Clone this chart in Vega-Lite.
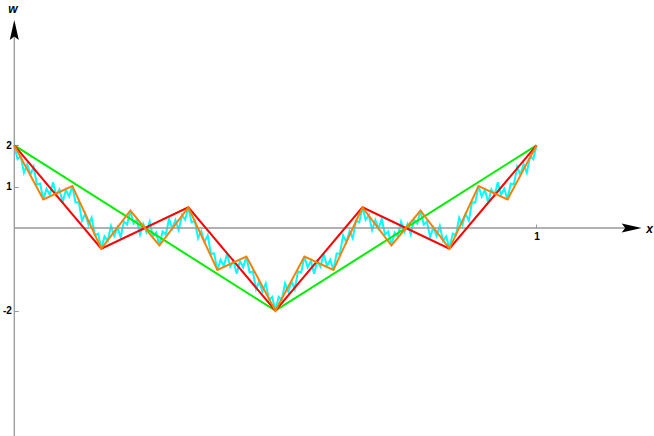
{
  "$schema": "https://vega.github.io/schema/vega-lite/v6.json",
  "width": 654,
  "height": 436,
  "padding": 0,
  "autosize": {"type": "none"},
  "background": "white",
  "config": {"view": {"stroke": null}},
  "datasets": {
    "cyan": [
      {"x":0,"w":2},{"x":0.0062,"w":1.6682},{"x":0.0123,"w":1.7375},{"x":0.0185,"w":1.338},{"x":0.0247,"w":1.5407},{"x":0.0309,"w":1.2931},{"x":0.037,"w":1.481},{"x":0.0432,"w":1.0525},{"x":0.0494,"w":1.0785},{"x":0.0556,"w":0.6897},
      {"x":0.0617,"w":0.9513},{"x":0.0679,"w":0.7998},{"x":0.0741,"w":1.1054},{"x":0.0802,"w":0.7988},{"x":0.0864,"w":0.933},{"x":0.0926,"w":0.6237},{"x":0.0988,"w":0.9241},{"x":0.1049,"w":0.7648},{"x":0.1111,"w":1.016},
      {"x":0.1173,"w":0.6143},{"x":0.1235,"w":0.6248},{"x":0.1296,"w":0.1782},{"x":0.1358,"w":0.3457},{"x":0.142,"w":0.0751},{"x":0.1481,"w":0.2524},{"x":0.1543,"w":-0.1749},{"x":0.1605,"w":-0.1358},{"x":0.1667,"w":-0.5},
      {"x":0.1728,"w":-0.203},{"x":0.179,"w":-0.3091},{"x":0.1852,"w":0.0513},{"x":0.1914,"w":-0.1925},{"x":0.1975,"w":0.0119},{"x":0.2037,"w":-0.2212},{"x":0.2099,"w":0.1603},{"x":0.216,"w":0.0855},{"x":0.2222,"w":0.4236},
      {"x":0.2284,"w":0.1097},{"x":0.2346,"w":0.2074},{"x":0.2407,"w":-0.1537},{"x":0.2469,"w":0.0962},{"x":0.2531,"w":-0.0962},{"x":0.2593,"w":0.1537},{"x":0.2654,"w":-0.2074},{"x":0.2716,"w":-0.1097},{"x":0.2778,"w":-0.4236},
      {"x":0.284,"w":-0.0855},{"x":0.2901,"w":-0.1603},{"x":0.2963,"w":0.2212},{"x":0.3025,"w":-0.0119},{"x":0.3086,"w":0.1925},{"x":0.3148,"w":-0.0513},{"x":0.321,"w":0.3091},{"x":0.3272,"w":0.203},{"x":0.3333,"w":0.5},
      {"x":0.3395,"w":0.1358},{"x":0.3457,"w":0.1749},{"x":0.3519,"w":-0.2524},{"x":0.358,"w":-0.0751},{"x":0.3642,"w":-0.3457},{"x":0.3704,"w":-0.1782},{"x":0.3765,"w":-0.6248},{"x":0.3827,"w":-0.6143},{"x":0.3889,"w":-1.016},
      {"x":0.3951,"w":-0.7648},{"x":0.4012,"w":-0.9241},{"x":0.4074,"w":-0.6237},{"x":0.4136,"w":-0.933},{"x":0.4198,"w":-0.7988},{"x":0.4259,"w":-1.1054},{"x":0.4321,"w":-0.7998},{"x":0.4383,"w":-0.9513},{"x":0.4444,"w":-0.6897},
      {"x":0.4506,"w":-1.0785},{"x":0.4568,"w":-1.0525},{"x":0.463,"w":-1.481},{"x":0.4691,"w":-1.2931},{"x":0.4753,"w":-1.5407},{"x":0.4815,"w":-1.338},{"x":0.4877,"w":-1.7375},{"x":0.4938,"w":-1.6682},{"x":0.5,"w":-2},
      {"x":0.5062,"w":-1.6682},{"x":0.5123,"w":-1.7375},{"x":0.5185,"w":-1.338},{"x":0.5247,"w":-1.5407},{"x":0.5309,"w":-1.2931},{"x":0.537,"w":-1.481},{"x":0.5432,"w":-1.0525},{"x":0.5494,"w":-1.0785},{"x":0.5556,"w":-0.6897},
      {"x":0.5617,"w":-0.9513},{"x":0.5679,"w":-0.7998},{"x":0.5741,"w":-1.1054},{"x":0.5802,"w":-0.7988},{"x":0.5864,"w":-0.933},{"x":0.5926,"w":-0.6237},{"x":0.5988,"w":-0.9241},{"x":0.6049,"w":-0.7648},{"x":0.6111,"w":-1.016},
      {"x":0.6173,"w":-0.6143},{"x":0.6235,"w":-0.6248},{"x":0.6296,"w":-0.1782},{"x":0.6358,"w":-0.3457},{"x":0.642,"w":-0.0751},{"x":0.6481,"w":-0.2524},{"x":0.6543,"w":0.1749},{"x":0.6605,"w":0.1358},{"x":0.6667,"w":0.5},
      {"x":0.6728,"w":0.203},{"x":0.679,"w":0.3091},{"x":0.6852,"w":-0.0513},{"x":0.6914,"w":0.1925},{"x":0.6975,"w":-0.0119},{"x":0.7037,"w":0.2212},{"x":0.7099,"w":-0.1603},{"x":0.716,"w":-0.0855},{"x":0.7222,"w":-0.4236},
      {"x":0.7284,"w":-0.1097},{"x":0.7346,"w":-0.2074},{"x":0.7407,"w":0.1537},{"x":0.7469,"w":-0.0962},{"x":0.7531,"w":0.0962},{"x":0.7593,"w":-0.1537},{"x":0.7654,"w":0.2074},{"x":0.7716,"w":0.1097},{"x":0.7778,"w":0.4236},
      {"x":0.784,"w":0.0855},{"x":0.7901,"w":0.1603},{"x":0.7963,"w":-0.2212},{"x":0.8025,"w":0.0119},{"x":0.8086,"w":-0.1925},{"x":0.8148,"w":0.0513},{"x":0.821,"w":-0.3091},{"x":0.8272,"w":-0.203},{"x":0.8333,"w":-0.5},
      {"x":0.8395,"w":-0.1358},{"x":0.8457,"w":-0.1749},{"x":0.8519,"w":0.2524},{"x":0.858,"w":0.0751},{"x":0.8642,"w":0.3457},{"x":0.8704,"w":0.1782},{"x":0.8765,"w":0.6248},{"x":0.8827,"w":0.6143},{"x":0.8889,"w":1.016},
      {"x":0.8951,"w":0.7648},{"x":0.9012,"w":0.9241},{"x":0.9074,"w":0.6237},{"x":0.9136,"w":0.933},{"x":0.9198,"w":0.7988},{"x":0.9259,"w":1.1054},{"x":0.9321,"w":0.7998},{"x":0.9383,"w":0.9513},{"x":0.9444,"w":0.6897},
      {"x":0.9506,"w":1.0785},{"x":0.9568,"w":1.0525},{"x":0.963,"w":1.481},{"x":0.9691,"w":1.2931},{"x":0.9753,"w":1.5407},{"x":0.9815,"w":1.338},{"x":0.9877,"w":1.7375},{"x":0.9938,"w":1.6682},{"x":1,"w":2}
    ],
    "orange": [
      {"x":0,"w":2},{"x":0.0556,"w":0.6897},{"x":0.1111,"w":1.016},{"x":0.1667,"w":-0.5},{"x":0.2222,"w":0.4236},{"x":0.2778,"w":-0.4236},{"x":0.3333,"w":0.5},{"x":0.3889,"w":-1.016},{"x":0.4444,"w":-0.6897},{"x":0.5,"w":-2},
      {"x":0.5556,"w":-0.6897},{"x":0.6111,"w":-1.016},{"x":0.6667,"w":0.5},{"x":0.7222,"w":-0.4236},{"x":0.7778,"w":0.4236},{"x":0.8333,"w":-0.5},{"x":0.8889,"w":1.016},{"x":0.9444,"w":0.6897},{"x":1,"w":2}
    ],
    "red": [
      {"x":0,"w":2},{"x":0.1667,"w":-0.5},{"x":0.3333,"w":0.5},{"x":0.5,"w":-2},{"x":0.6667,"w":0.5},{"x":0.8333,"w":-0.5},{"x":1,"w":2}
    ],
    "green": [
      {"x":0,"w":2},{"x":0.5,"w":-2},{"x":1,"w":2}
    ]
  },
  "layer": [
    {
      "data": {"name": "cyan"},
      "mark": {"type": "line", "color": "#00FFFF", "strokeWidth": 2},
      "encoding": {
        "x": {"field": "x", "type": "quantitative",
          "scale": {"domain": [-0.02738, 1.22501], "nice": false, "zero": false},
          "axis": {"values": [1], "offset": -208, "domain": false, "grid": false, "ticks": true, "tickSize": -4, "tickColor": "#999999", "tickWidth": 1,
            "labelExpr": "datum.value < 0 ? '-' + format(-datum.value, 'd') : format(datum.value, 'd')",
            "labelPadding": 7, "labelFont": "Liberation Sans", "labelFontWeight": "bold", "labelFontSize": 10, "labelColor": "black", "labelFlush": false, "labelOverlap": false,
            "title": "x", "titleAngle": 0, "titleX": 649, "titleY": 0, "titleAlign": "center", "titleBaseline": "middle",
            "titleFont": "Liberation Sans", "titleFontStyle": "italic", "titleFontWeight": "bold", "titleFontSize": 12, "titleColor": "black"}},
        "y": {"field": "w", "type": "quantitative",
          "scale": {"domain": [-5.0363, 5.5206], "nice": false, "zero": false},
          "axis": {"values": [2, 1, -2], "offset": -14.3, "domain": false, "grid": false, "ticks": true, "tickSize": -4, "tickColor": "#999999", "tickWidth": 1,
            "labelExpr": "datum.value < 0 ? '-' + format(-datum.value, 'd') : format(datum.value, 'd')",
            "labelPadding": 7, "labelFont": "Liberation Sans", "labelFontWeight": "bold", "labelFontSize": 10, "labelColor": "black", "labelFlush": false, "labelOverlap": false,
            "title": "w", "titleAngle": 0, "titleX": -2, "titleY": 8, "titleAlign": "center", "titleBaseline": "middle",
            "titleFont": "Liberation Sans", "titleFontStyle": "italic", "titleFontWeight": "bold", "titleFontSize": 12, "titleColor": "black"}}
      }
    },
    {
      "data": {"values": [{}]},
      "mark": {"type": "rule", "color": "#999999", "strokeWidth": 1.3},
      "encoding": {
        "x": {"datum": 0},
        "x2": {"datum": 1.1823},
        "y": {"datum": 0}
      }
    },
    {
      "data": {"values": [{}]},
      "mark": {"type": "rule", "color": "#999999", "strokeWidth": 1.3},
      "encoding": {
        "x": {"datum": 0},
        "y": {"datum": -5.0363},
        "y2": {"datum": 4.794}
      }
    },
    {
      "data": {"name": "green"},
      "mark": {"type": "line", "color": "#00EE00", "strokeWidth": 2},
      "encoding": {
        "x": {"field": "x", "type": "quantitative"},
        "y": {"field": "w", "type": "quantitative"}
      }
    },
    {
      "data": {"name": "red"},
      "mark": {"type": "line", "color": "#FF0000", "strokeWidth": 2},
      "encoding": {
        "x": {"field": "x", "type": "quantitative"},
        "y": {"field": "w", "type": "quantitative"}
      }
    },
    {
      "data": {"name": "orange"},
      "mark": {"type": "line", "color": "#FF8000", "strokeWidth": 2},
      "encoding": {
        "x": {"field": "x", "type": "quantitative"},
        "y": {"field": "w", "type": "quantitative"}
      }
    },
    {
      "data": {"values": [{}]},
      "mark": {"type": "point", "shape": "M1,0L-1,-0.45L-0.65,0L-1,0.45Z", "filled": true, "color": "black", "opacity": 1, "size": 400, "strokeWidth": 0},
      "encoding": {
        "x": {"datum": 1.1823},
        "y": {"datum": 0}
      }
    },
    {
      "data": {"values": [{}]},
      "mark": {"type": "point", "shape": "M0,-1L-0.45,1L0,0.65L0.45,1Z", "filled": true, "color": "black", "opacity": 1, "size": 400, "strokeWidth": 0},
      "encoding": {
        "x": {"datum": 0},
        "y": {"datum": 4.794}
      }
    }
  ]
}
